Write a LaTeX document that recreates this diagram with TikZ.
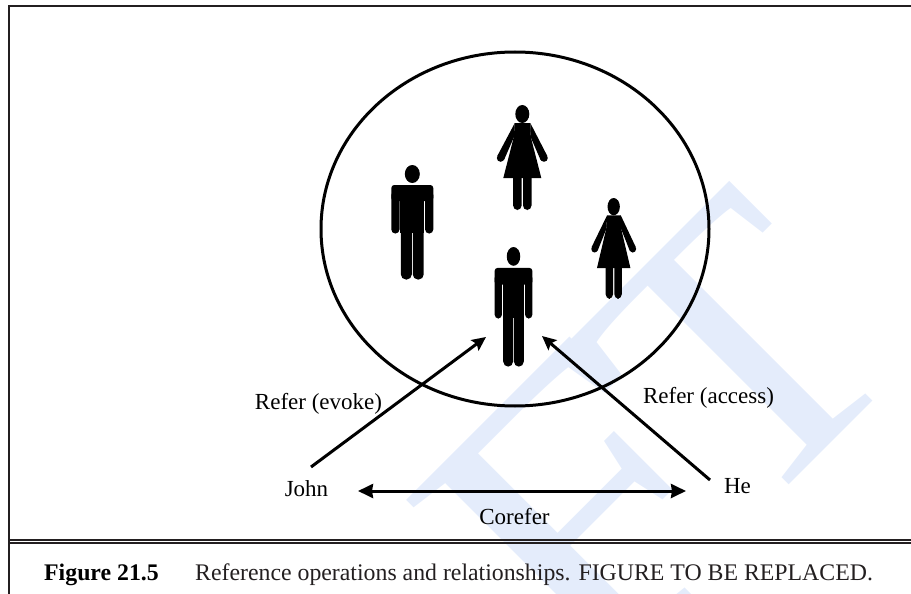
\documentclass[tikz,border=0pt]{standalone}
\usepackage{fontspec}
\setmainfont{Liberation Serif}
\usetikzlibrary{arrows.meta, shapes.geometric}
\definecolor{markblue}{RGB}{228,236,251}
\definecolor{framegray}{RGB}{35,31,32}
\tikzset{
  man/.pic={
    \fill (0,9) ellipse [x radius=7.5, y radius=9];
    \fill[rounded corners=3pt] (-21,20) rectangle (21,36);
    \fill[rounded corners=4pt] (-21,26) rectangle (-12.8,68.5);
    \fill[rounded corners=4pt] (12.8,26) rectangle (21,68.5);
    \fill (-12,26) rectangle (12,68);
    \fill[rounded corners=5pt] (-11.4,60) rectangle (-0.5,114.5);
    \fill[rounded corners=5pt] (0.5,60) rectangle (11.4,114.5);
  },
  woman/.pic={
    \fill (0,9) ellipse [x radius=7, y radius=9];
    \fill (-7.5,18) -- (8,18) -- (8.5,32) -- (19,73) -- (-19,73) -- (-8.5,32) -- cycle;
    \fill (-7.5,18) -- (-25,51) -- (-18.3,55) -- (-8.3,32) -- cycle;
    \fill (8,18) -- (25,51) -- (18.3,55) -- (8.3,32) -- cycle;
    \fill (-21.7,53) circle (3.8);
    \fill (21.7,53) circle (3.8);
    \fill[rounded corners=4.5pt] (-9.2,65) rectangle (-0.7,105);
    \fill[rounded corners=4.5pt] (0.7,65) rectangle (9.2,105);
  },
  label/.style={inner sep=0pt, font=\fontsize{23}{26}\selectfont},
  marktext/.style={markblue, inner sep=0pt, anchor=base west, rotate=45, font=\fontsize{392}{392}\selectfont},
  frameline/.style={framegray, line width=2pt},
  link/.style={line width=3pt, -{Stealth[length=14pt, width=13pt, inset=2.5pt]}}
}
\begin{document}
\begin{tikzpicture}[x=1pt, y=-1pt]
  \useasboundingbox (0,0) rectangle (911,594);
  % watermark
  \begin{scope}
    \clip (0,0) rectangle (911,594);
    \node[marktext] (markf) at (587.5,700.5) {\scalebox{1.2}[1.05]{F}};
    \node[marktext] (markt) at (746,528) {T};
  \end{scope}

  % frame and rules
  \coordinate (topleft) at (9,6);
  \coordinate (topright) at (911,6);
  \coordinate (bottomleft) at (9,594);
  \coordinate (ruleleft) at (9,539.5);
  \coordinate (ruleright) at (911,539.5);
  \coordinate (lowleft) at (9,543);
  \coordinate (lowright) at (911,543);
  \draw[frameline] (bottomleft) -- (topleft) -- (topright);
  \draw[frameline] (ruleleft) -- (ruleright);
  \draw[frameline] (lowleft) -- (lowright);

  % the discourse model
  \node[draw, ellipse, line width=3pt, minimum width=388pt, minimum height=354pt,
    inner sep=0pt] (model) at (515,229) {};
  \pic (man1) at (412.3,165) {man};
  \pic[xscale=0.9, yscale=1.045] (man2) at (513.5,247) {man};
  \pic (woman1) at (522.3,105) {woman};
  \pic[xscale=0.88, yscale=0.96] (woman2) at (613.7,198) {woman};

  % texts
  \node[label, anchor=base] (john) at (306.5,496) {John};
  \node[label, anchor=base] (he) at (737.5,493) {He};
  \node[label, anchor=base] (corefer) at (514.5,524) {Corefer};
  \node[label, anchor=base] (evoke) at (318.5,409) {Refer (evoke)};
  \node[label, anchor=base] (access) at (708.5,403) {Refer (access)};
  \node[label, anchor=base west, font=\fontsize{23.8}{26}\selectfont\bfseries] (figno) at (44,580) {Figure 21.5};
  \node[label, anchor=base west, framegray, font=\fontsize{23.8}{26}\selectfont] (caption) at (195,580) {Reference operations and relationships. FIGURE TO BE REPLACED.};

  % connectors
  \coordinate (johnstart) at (311,467);
  \coordinate (johnend) at (486,337);
  \coordinate (hestart) at (710,480);
  \coordinate (heend) at (542,336);
  \coordinate (coleft) at (358,491);
  \coordinate (coright) at (686,491);
  \draw[link] (johnstart) -- (johnend);
  \draw[link] (hestart) -- (heend);
  \draw[link, {Stealth[length=15pt, width=14pt, inset=1pt]}-{Stealth[length=15pt, width=14pt, inset=1pt]}] (coleft) -- (coright);
\end{tikzpicture}
\end{document}
